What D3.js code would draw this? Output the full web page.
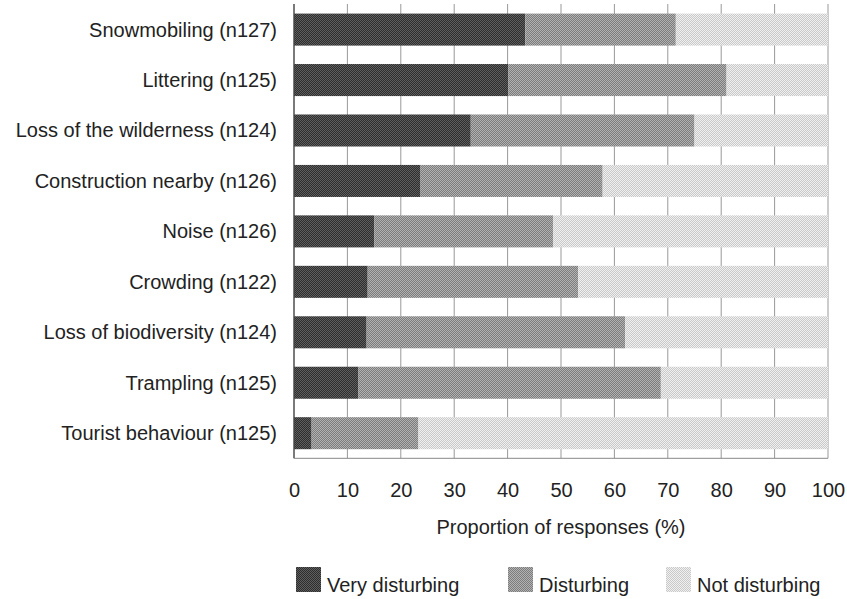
<!DOCTYPE html>
<html>
<head>
<meta charset="utf-8">
<script src="https://cdn.jsdelivr.net/npm/d3@7"></script>
<style>
  body { margin: 0; background: #fff; }
  text { font-family: "Liberation Sans", Arial, sans-serif; fill: #222; }
</style>
</head>
<body>
<svg id="chart" width="847" height="599"></svg>
<script>
// categories, top to bottom
var categories = ["Snowmobiling (n127)", "Littering (n125)", "Loss of the wilderness (n124)",
  "Construction nearby (n126)", "Noise (n126)", "Crowding (n122)",
  "Loss of biodiversity (n124)", "Trampling (n125)", "Tourist behaviour (n125)"];
var seriesNames = ["Very disturbing", "Disturbing", "Not disturbing"];
// percentages
var veryDisturbing = [43.3, 40.1, 33.1, 23.7, 15.0, 13.8, 13.6, 12.0, 3.3];
var disturbing     = [28.2, 40.9, 41.9, 34.1, 33.5, 39.4, 48.4, 56.7, 20.0];
var notDisturbing  = [28.5, 19.0, 25.0, 42.2, 51.5, 46.8, 38.0, 31.3, 76.7];
var xTicks = [0, 10, 20, 30, 40, 50, 60, 70, 80, 90, 100];

var svg = d3.select("#chart");

// checker textures for the three greys
var textures = [["#2e2e2e", "#5e5e5e"], ["#7c7c7c", "#b2b2b2"], ["#c9c9c9", "#f0f0f0"]];
var defs = svg.append("defs");
textures.forEach(function(c, i) {
  var p = defs.append("pattern").attr("id", "tex" + i)
    .attr("width", 2).attr("height", 2).attr("patternUnits", "userSpaceOnUse");
  p.append("rect").attr("width", 2).attr("height", 2).attr("fill", c[0]);
  p.append("rect").attr("width", 1).attr("height", 1).attr("fill", c[1]);
  p.append("rect").attr("x", 1).attr("y", 1).attr("width", 1).attr("height", 1).attr("fill", c[1]);
});

var x = d3.scaleLinear().domain([0, 100]).range([294, 828]);
var y = d3.scaleBand().domain(categories).range([4.5, 458.3])
  .paddingInner(0.365).paddingOuter(0.18);

var rows = categories.map(function(c, i) {
  return { cat: c, "Very disturbing": veryDisturbing[i], "Disturbing": disturbing[i], "Not disturbing": notDisturbing[i] };
});
var stacked = d3.stack().keys(seriesNames)(rows);

// vertical grid
svg.append("g").selectAll("line").data(xTicks).enter().append("line")
  .attr("x1", function(d) { return x(d); }).attr("x2", function(d) { return x(d); })
  .attr("y1", 4).attr("y2", 458.3)
  .attr("stroke", "#999").attr("stroke-width", 1);

// bars
svg.append("g").selectAll("g").data(stacked).enter().append("g")
  .attr("fill", function(d, i) { return "url(#tex" + i + ")"; })
  .selectAll("rect").data(function(d) { return d; }).enter().append("rect")
  .attr("x", function(d) { return x(d[0]); })
  .attr("width", function(d) { return x(d[1]) - x(d[0]); })
  .attr("y", function(d) { return y(d.data.cat); })
  .attr("height", y.bandwidth());

// frame lines
svg.append("line").attr("x1", x(0)).attr("x2", x(0)).attr("y1", 4).attr("y2", 458.3)
  .attr("stroke", "#444").attr("stroke-width", 1.2);
svg.append("line").attr("x1", x(0)).attr("x2", x(100)).attr("y1", 458.3).attr("y2", 458.3)
  .attr("stroke", "#888").attr("stroke-width", 1);

// category labels
svg.append("g").selectAll("text").data(categories).enter().append("text")
  .attr("x", 277).attr("y", function(d) { return y(d) + y.bandwidth() / 2 + 7; })
  .attr("text-anchor", "end").style("font-size", "20px")
  .text(function(d) { return d; });

// x axis
var xAxis = d3.axisBottom(x).tickValues(xTicks).tickSize(0).tickPadding(0);
var gx = svg.append("g").attr("transform", "translate(0,483)").call(xAxis);
gx.select(".domain").remove();
gx.selectAll("text").style("font-size", "20px").attr("dy", "0.71em")
  .style("fill", "#222").style("font-family", "'Liberation Sans', Arial, sans-serif");

svg.append("text").attr("x", x(50)).attr("y", 534).attr("text-anchor", "middle")
  .style("font-size", "20px").text("Proportion of responses (%)");

// legend
var legendX = [296, 508, 666];
var lg = svg.append("g").selectAll("g").data(seriesNames).enter().append("g")
  .attr("transform", function(d, i) { return "translate(" + legendX[i] + ",567)"; });
lg.append("rect").attr("width", 25).attr("height", 25)
  .attr("fill", function(d, i) { return "url(#tex" + i + ")"; });
lg.append("text").attr("x", 31).attr("y", 24.5).style("font-size", "20px")
  .text(function(d) { return d; });
</script>
</body>
</html>
